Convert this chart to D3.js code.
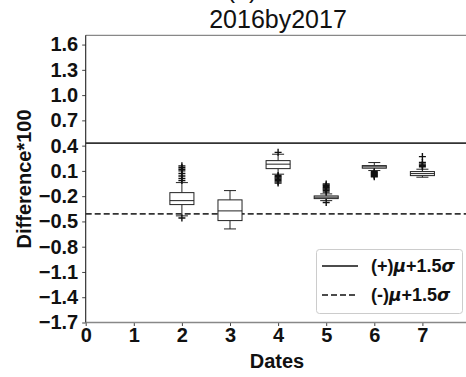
<!DOCTYPE html>
<html>
<head>
<meta charset="utf-8">
<script src="https://cdn.jsdelivr.net/npm/d3@7"></script>
<style>
  html, body { margin: 0; padding: 0; background: #fff; }
  svg { display: block; font-family: "Liberation Sans", Arial, sans-serif; }
</style>
</head>
<body>
<svg id="chart" width="466" height="377"></svg>
<script>
// Box-plot summary per date (Difference*100)
const dates    = [2, 3, 4, 5, 6, 7];
const whiskLo  = [-0.434, -0.589, 0.061, -0.253, 0.104, 0.025];
const q1       = [-0.300, -0.490, 0.127, -0.229, 0.132, 0.044];
const medians  = [-0.253, -0.375, 0.180, -0.212, 0.148, 0.068];
const q3       = [-0.158, -0.244, 0.222, -0.197, 0.163, 0.092];
const whiskHi  = [-0.039, -0.134, 0.298, -0.173, 0.199, 0.120];
const fliers   = [
  [0.16, 0.14, 0.12, 0.10, 0.07, 0.04, 0.01, -0.015, -0.46],
  [],
  [0.32, 0.045, 0.03, 0.015, 0.0, -0.015, -0.03, -0.045],
  [-0.055, -0.07, -0.085, -0.10, -0.115, -0.13, -0.15, -0.275],
  [0.09, 0.078, 0.066, 0.054, 0.042, 0.03],
  [0.27, 0.20, 0.18, 0.165, 0.15]
];
// Threshold lines
const upperBound = 0.43;
const lowerBound = -0.41;
const legendLabels = ["(+)", "(-)"];
const xTicks = [0, 1, 2, 3, 4, 5, 6, 7];
const yTicks = [1.6, 1.3, 1.0, 0.7, 0.4, 0.1, -0.2, -0.5, -0.8, -1.1, -1.4, -1.7];

const svg = d3.select("#chart");
const plotL = 85.7, plotR = 470.5, plotT = 35.3, plotB = 322.5;

const x = d3.scaleLinear().domain([0, 8]).range([plotL, plotR]);
const y = d3.scaleLinear().domain([-1.7, 1.71]).range([plotB, plotT]);

const fontTick = 20;

// Partial panel tag above the title
svg.append("text").attr("x", 242).attr("y", -2)
  .attr("text-anchor", "middle").attr("font-size", 25).attr("fill", "#111").text("(a)");
svg.append("text").attr("x", 278).attr("y", 28)
  .attr("text-anchor", "middle").attr("font-size", 25).attr("fill", "#111").text("2016by2017");

// Axes
const xAxis = d3.axisBottom(x).tickValues(xTicks).tickFormat(d3.format("d")).tickSize(3.5).tickPadding(2);
const yAxis = d3.axisLeft(y).tickValues(yTicks)
  .tickFormat(d => d3.format(".1f")(d).replace("-", "\u2212")).tickSize(3.5).tickPadding(4);

const gx = svg.append("g").attr("transform", `translate(0,${plotB})`).call(xAxis);
const gy = svg.append("g").attr("transform", `translate(${plotL},0)`).call(yAxis);
[gx, gy].forEach(g => {
  g.select(".domain").remove();
  g.selectAll(".tick line").attr("stroke", "#444").attr("stroke-width", 1);
  g.selectAll(".tick text").attr("font-size", fontTick).attr("font-weight", "bold")
    .attr("fill", "#111").attr("font-family", "Liberation Sans, Arial, sans-serif");
});

// Spines
svg.append("line").attr("x1", plotL).attr("x2", plotR).attr("y1", plotT).attr("y2", plotT)
  .attr("stroke", "#888").attr("stroke-width", 1.3);
svg.append("line").attr("x1", plotL).attr("x2", plotR).attr("y1", plotB).attr("y2", plotB)
  .attr("stroke", "#888").attr("stroke-width", 1.3);
svg.append("line").attr("x1", plotL).attr("x2", plotL).attr("y1", plotT).attr("y2", plotB)
  .attr("stroke", "#222").attr("stroke-width", 1.1);

// Axis titles
svg.append("text").attr("x", 277).attr("y", 368).attr("text-anchor", "middle")
  .attr("font-size", 20).attr("font-weight", "bold").attr("fill", "#111").text("Dates");
svg.append("text").attr("transform", `translate(31,${(plotT + plotB) / 2}) rotate(-90)`)
  .attr("text-anchor", "middle").attr("font-size", 20).attr("font-weight", "bold")
  .attr("fill", "#111").text("Difference*100");

// Threshold lines
svg.append("line").attr("x1", plotL).attr("x2", plotR)
  .attr("y1", y(upperBound)).attr("y2", y(upperBound))
  .attr("stroke", "#333").attr("stroke-width", 1.6);
svg.append("line").attr("x1", plotL).attr("x2", plotR)
  .attr("y1", y(lowerBound)).attr("y2", y(lowerBound))
  .attr("stroke", "#333").attr("stroke-width", 1.6).attr("stroke-dasharray", "6,3");

// Box plots
const boxW = x(0.5) - x(0), capW = boxW / 2;
const boxes = svg.append("g").attr("stroke", "#222").attr("stroke-width", 1).attr("fill", "none");
dates.forEach((d, i) => {
  const cx = x(d);
  const g = boxes.append("g");
  g.append("line").attr("x1", cx).attr("x2", cx).attr("y1", y(whiskHi[i])).attr("y2", y(q3[i]));
  g.append("line").attr("x1", cx).attr("x2", cx).attr("y1", y(q1[i])).attr("y2", y(whiskLo[i]));
  g.append("line").attr("x1", cx - capW / 2).attr("x2", cx + capW / 2).attr("y1", y(whiskHi[i])).attr("y2", y(whiskHi[i]));
  g.append("line").attr("x1", cx - capW / 2).attr("x2", cx + capW / 2).attr("y1", y(whiskLo[i])).attr("y2", y(whiskLo[i]));
  g.append("rect").attr("x", cx - boxW / 2).attr("width", boxW)
    .attr("y", y(q3[i])).attr("height", y(q1[i]) - y(q3[i])).attr("fill", "#fff");
  g.append("line").attr("x1", cx - boxW / 2).attr("x2", cx + boxW / 2).attr("y1", y(medians[i])).attr("y2", y(medians[i]));
  fliers[i].forEach(v => {
    const fy = y(v);
    g.append("path").attr("d", `M${cx - 3.5},${fy}H${cx + 3.5}M${cx},${fy - 3.5}V${fy + 3.5}`)
      .attr("stroke", "#111").attr("stroke-width", 1.4);
  });
});

// Legend
const lg = svg.append("g");
lg.append("rect").attr("x", 316.5).attr("y", 249.5).attr("width", 146).attr("height", 64)
  .attr("rx", 3).attr("fill", "#fff").attr("stroke", "#ccc").attr("stroke-width", 1);
legendLabels.forEach((lab, i) => {
  const ly = 266 + i * 29;
  lg.append("line").attr("x1", 322).attr("x2", 358).attr("y1", ly).attr("y2", ly)
    .attr("stroke", "#111").attr("stroke-width", 1.6)
    .attr("stroke-dasharray", i === 1 ? "6,3" : null);
  const t = lg.append("text").attr("x", 371).attr("y", ly + 6).attr("font-size", 18)
    .attr("font-weight", "bold").attr("fill", "#111");
  t.append("tspan").text(lab);
  t.append("tspan").attr("font-style", "italic").attr("font-family", "DejaVu Sans").attr("font-size", 17).text("\u03bc");
  t.append("tspan").text("+1.5");
  t.append("tspan").attr("font-style", "italic").attr("font-family", "DejaVu Sans").attr("font-size", 17).text("\u03c3");
});
</script>
</body>
</html>
